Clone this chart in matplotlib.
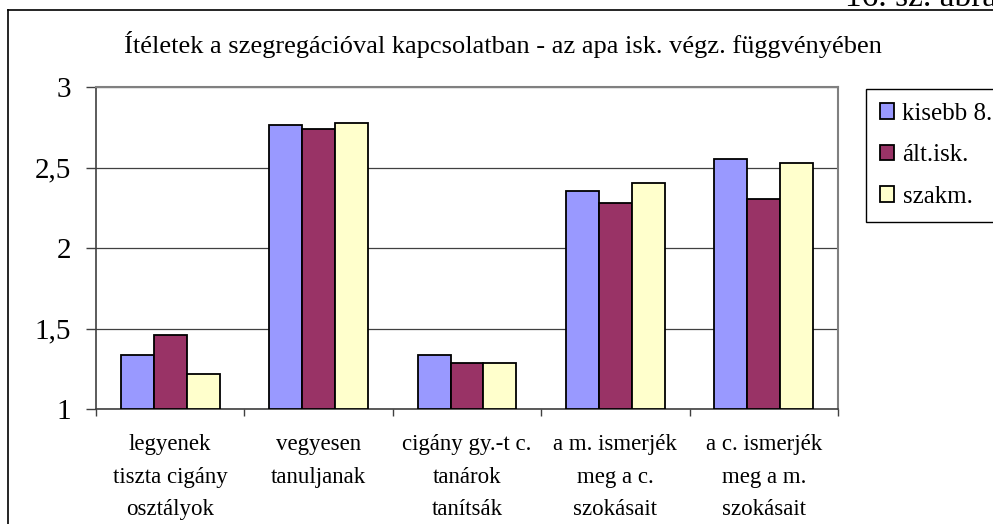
import matplotlib
matplotlib.use("Agg")
import matplotlib.pyplot as plt
from matplotlib.lines import Line2D
import numpy as np

plt.rcParams['font.family'] = ['Liberation Serif', 'DejaVu Serif']

categories = ["legyenek\ntiszta cigány\nosztályok",
              "vegyesen\ntanuljanak",
              "cigány gy.-t c.\ntanárok\ntanítsák",
              "a m. ismerjék\nmeg a c.\nszokásait",
              "a c. ismerjék\nmeg a m.\nszokásait"]
series_names = ["kisebb 8.", "ált.isk.", "szakm."]
kisebb8 = [1.335, 2.764, 1.335, 2.356, 2.553]
altisk = [1.46, 2.739, 1.286, 2.28, 2.306]
szakm = [1.22, 2.776, 1.286, 2.404, 2.528]
series_values = [kisebb8, altisk, szakm]
colors = ["#9999FF", "#993366", "#FFFFCC"]
yticks = [1, 1.5, 2, 2.5, 3]
ytick_labels = ["1", "1,5", "2", "2,5", "3"]
title = "Ítéletek a szegregációval kapcsolatban - az apa isk. végz. függvényében"
fig_label = "16. sz. ábra"

W, H = 993, 524
fig = plt.figure(figsize=(W / 100, H / 100), dpi=100)

# outer chart frame (cropped on right and bottom)
fig.add_artist(Line2D([8 / W, 8 / W], [0, 1 - 9.5 / H], transform=fig.transFigure,
                      color='black', lw=1.2))
fig.add_artist(Line2D([8 / W, 1], [1 - 9.5 / H, 1 - 9.5 / H], transform=fig.transFigure,
                      color='black', lw=1.2))

fig.text(845 / W, 1 - 6 / H, fig_label, fontsize=24, va='baseline', ha='left')

left, right, top, bottom = 96, 838, 87, 409
ax = fig.add_axes([left / W, 1 - bottom / H, (right - left) / W, (bottom - top) / H])

n = len(categories)
x = np.arange(n)
bw = 1 / 4.5
for i, (vals, c, name) in enumerate(zip(series_values, colors, series_names)):
    ax.bar(x + (i - 1) * bw, np.array(vals) - 1, bw, bottom=1, color=c,
           edgecolor='black', linewidth=1.3, label=name, zorder=3)

ax.set_xlim(-0.5, n - 0.5)
ax.set_ylim(1, 3)
ax.set_yticks(yticks)
ax.set_yticklabels(ytick_labels, fontsize=21)
ax.yaxis.grid(True, color='#404040', lw=0.9, zorder=0)
ax.set_axisbelow(True)

ax.set_xticks(np.arange(n + 1) - 0.5)
ax.set_xticklabels([])
ax.set_xticks(x, minor=True)
ax.set_xticklabels(categories, minor=True, fontsize=16.5, linespacing=1.72, va='top')
ax.tick_params(axis='x', which='minor', length=0, pad=18)
ax.tick_params(axis='x', which='major', length=5, width=1, color='#404040', direction='out')
ax.tick_params(axis='y', length=7.2, width=1, color='#404040', direction='out', pad=10.5)

for s in ['top', 'right']:
    ax.spines[s].set_color('#808080')
    ax.spines[s].set_linewidth(1.5)
for s in ['left', 'bottom']:
    ax.spines[s].set_color('#404040')
    ax.spines[s].set_linewidth(1.2)

fig.text(503 / W, 1 - 45 / H, title, fontsize=19, ha='center', va='center')

leg = ax.legend(loc='upper left', bbox_to_anchor=(866 / W, 1 - 89 / H),
                bbox_transform=fig.transFigure, fontsize=18, frameon=True,
                fancybox=False, edgecolor='black', framealpha=1,
                handlelength=0.56, handleheight=0.56, handletextpad=0.35,
                labelspacing=0.78, borderpad=0.55, borderaxespad=0)
leg.get_frame().set_linewidth(1.0)

fig.savefig("out.png", dpi=100)
